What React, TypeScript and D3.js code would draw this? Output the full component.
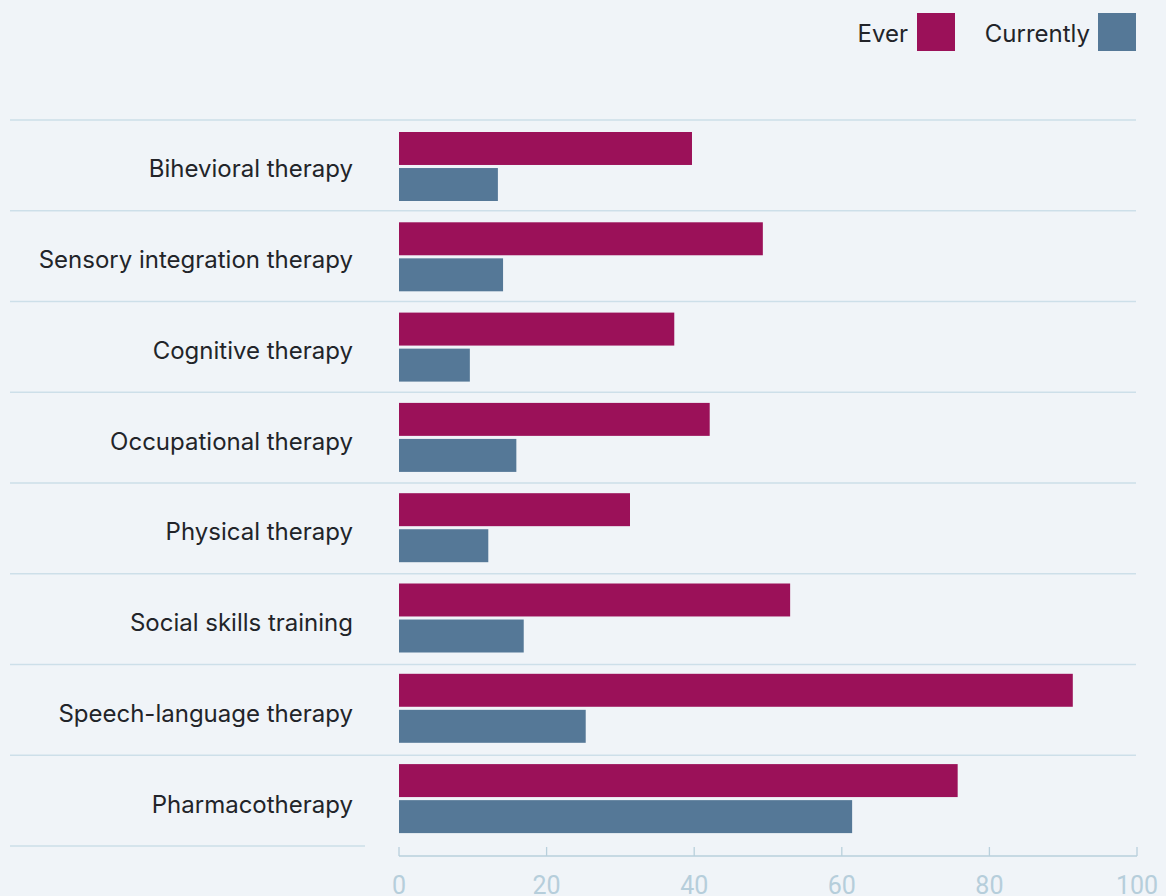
import React from "react";
import * as d3 from "d3";

const categories = [
  "Bihevioral therapy",
  "Sensory integration therapy",
  "Cognitive therapy",
  "Occupational therapy",
  "Physical therapy",
  "Social skills training",
  "Speech-language therapy",
  "Pharmacotherapy",
];
const everValues = [39.7, 49.3, 37.3, 42.1, 31.3, 53.0, 91.3, 75.7];
const currentlyValues = [13.4, 14.1, 9.6, 15.9, 12.1, 16.9, 25.3, 61.4];
const seriesNames = ["Ever", "Currently"];
const seriesColors = ["#9b1159", "#557897"];
const xTicks = [0, 20, 40, 60, 80, 100];

const W = 1166;
const H = 896;

export default function App() {
  const x = d3.scaleLinear().domain([0, 100]).range([399, 1137]);
  const grid = d3.scaleBand<string>().domain(categories).range([120, 846]).padding(0);
  const y = d3.scaleBand<string>().domain(categories).range([120, 842.4]).padding(0);
  const inner = d3
    .scaleBand<string>()
    .domain(seriesNames)
    .range([12, 81])
    .paddingInner(0.085);
  const series = [everValues, currentlyValues];
  const gridYs = categories.map((c) => grid(c) as number).concat([846]);
  const font = "Inter, 'Noto Sans', sans-serif";

  return (
    <svg
      width={W}
      height={H}
      style={{ position: "absolute", left: 0, top: 0, background: "#f0f4f8" }}
      fontFamily={font}
    >
      <rect x={0} y={0} width={W} height={H} fill="#f0f4f8" />
      {gridYs.map((gy, i) => (
        <line
          key={i}
          x1={10}
          x2={i === gridYs.length - 1 ? 365 : 1136}
          y1={gy}
          y2={gy}
          stroke="#cddfe9"
          strokeWidth={1.3}
        />
      ))}
      {categories.map((c, ci) => (
        <g key={c}>
          <text
            x={353}
            y={(grid(c) as number) + grid.bandwidth() / 2 + 3.5}
            dy="0.35em"
            textAnchor="end"
            fontSize={24}
            fill="#222429"
          >
            {c}
          </text>
          <g transform={`translate(0,${y(c)})`}>
            {seriesNames.map((s, si) => (
              <rect
                key={s}
                x={x(0)}
                y={inner(s) as number}
                width={x(series[si][ci]) - x(0)}
                height={inner.bandwidth()}
                fill={seriesColors[si]}
              />
            ))}
          </g>
        </g>
      ))}
      <g>
        <line x1={x(0)} x2={x(100)} y1={856} y2={856} stroke="#b9d0dc" strokeWidth={1.3} />
        {xTicks.map((t) => (
          <g key={t}>
            <line x1={x(t)} x2={x(t)} y1={847} y2={856} stroke="#b9d0dc" strokeWidth={1.3} />
            <text
              x={x(t)}
              y={894}
              textAnchor="middle"
              fontSize={25}
              fontFamily="Roboto, sans-serif"
              fill="#b6cedb"
            >
              {t}
            </text>
          </g>
        ))}
      </g>
      <g>
        <text x={908} y={34} dy="0.35em" textAnchor="end" fontSize={24} fill="#222429">
          {seriesNames[0]}
        </text>
        <rect x={917} y={13} width={38} height={38} fill={seriesColors[0]} />
        <text x={1090} y={34} dy="0.35em" textAnchor="end" fontSize={24} fill="#222429">
          {seriesNames[1]}
        </text>
        <rect x={1098} y={13} width={38} height={38} fill={seriesColors[1]} />
      </g>
    </svg>
  );
}
